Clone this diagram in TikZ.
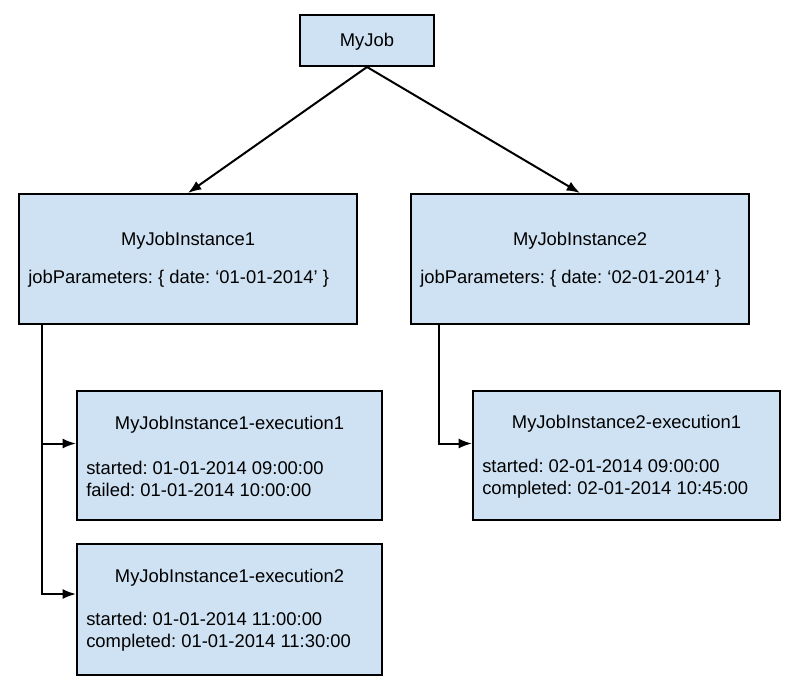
\documentclass[tikz,border=0pt]{standalone}
\usepackage{fontspec}
\setmainfont{Liberation Sans}
\usetikzlibrary{arrows.meta,calc}
\definecolor{boxblue}{HTML}{CFE2F3}
\frenchspacing
\tikzset{
	jobbox/.style={draw, fill=boxblue, line width=1.5pt, inner sep=0pt},
	txt/.style={inner sep=0pt, font=\fontsize{13.8}{16.5}\selectfont},
	body/.style={txt, anchor=west, align=left},
	link/.style={line width=1.5pt, -{Latex[length=10pt,width=7.5pt]}}
}

\begin{document}
\begin{tikzpicture}[x=0.75pt, y=-0.75pt]
\useasboundingbox (0,0) rectangle (805,694);

% boxes
\node[jobbox, minimum width=100.5pt, minimum height=38.25pt] (job) at (367,40.5) {};
\node[jobbox, minimum width=253.5pt, minimum height=97.5pt] (inst1) at (188,259) {};
\node[jobbox, minimum width=253.5pt, minimum height=97.5pt] (inst2) at (580,259) {};
\node[jobbox, minimum width=228.75pt, minimum height=96.75pt] (exec11) at (229.5,455.5) {};
\node[jobbox, minimum width=228.75pt, minimum height=98.25pt] (exec12) at (229.5,609) {};
\node[jobbox, minimum width=230.25pt, minimum height=96.75pt] (exec21) at (626.5,455.5) {};

% texts
\node[txt] (jobname) at (367,42) {MyJob};

\node[txt] (inst1name) at (188,241) {MyJobInstance1};
\node[body] (inst1par) at (28,279) {jobParameters: \{ date: ‘01-01-2014’ \}};

\node[txt] (inst2name) at (580,241) {MyJobInstance2};
\node[body] (inst2par) at (420,279) {jobParameters: \{ date: ‘02-01-2014’ \}};

\node[txt] (exec11name) at (229.5,425) {MyJobInstance1-execution1};
\node[body] (exec11par) at (86,479) {started: 01-01-2014 09:00:00\\failed: 01-01-2014 10:00:00};

\node[txt] (exec12name) at (229.5,578) {MyJobInstance1-execution2};
\node[body] (exec12par) at (86,632) {started: 01-01-2014 11:00:00\\completed: 01-01-2014 11:30:00};

\node[txt] (exec21name) at (626.5,424) {MyJobInstance2-execution1};
\node[body] (exec21par) at (482,479) {started: 02-01-2014 09:00:00\\completed: 02-01-2014 10:45:00};

% connectors
\draw[link] (job.south) -- (inst1.north);
\draw[link] (job.south) -- (inst2.north);

\coordinate (trunk1) at (42,324);
\coordinate (trunk2) at (439,324);
\draw[link] (trunk1) |- ($(exec11.west)+(0,-12)$);
\draw[link] (trunk1) |- ($(exec12.west)+(0,-15)$);
\draw[link] (trunk2) |- ($(exec21.west)+(0,-12)$);

\end{tikzpicture}
\end{document}
